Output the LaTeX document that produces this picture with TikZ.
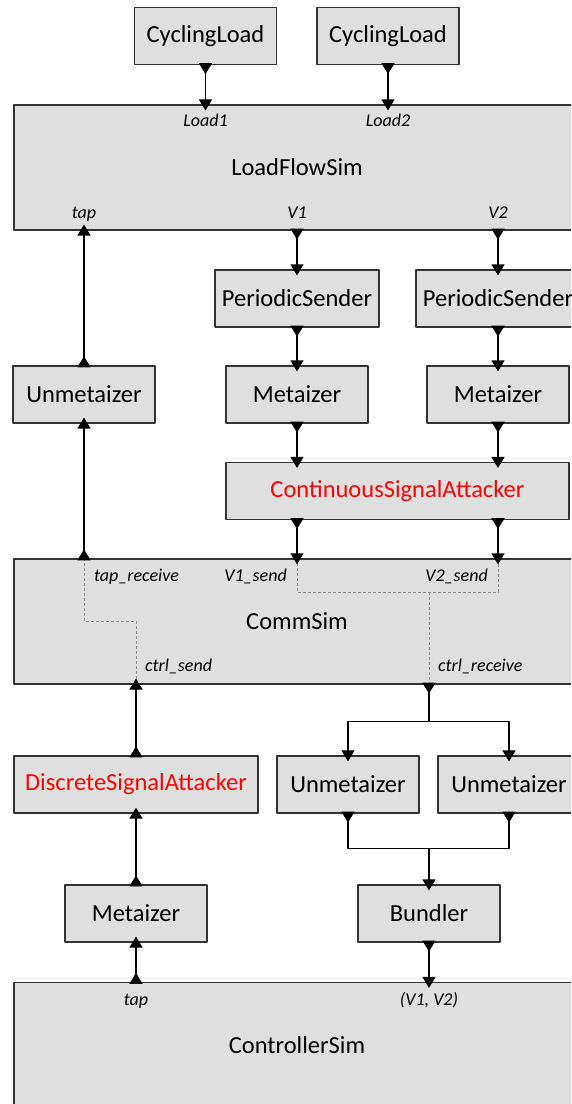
\documentclass[tikz,border=0pt]{standalone}
\usepackage{fontspec}
\setmainfont{Carlito}
\usepackage{tikz}
\usetikzlibrary{positioning, arrows.meta, calc}
\definecolor{boxgray}{HTML}{DFDFDF}
\definecolor{edgegray}{HTML}{333333}
\definecolor{wiregray}{HTML}{8C8C8C}
\definecolor{attackred}{HTML}{FF0000}

\begin{document}
\begin{tikzpicture}[
    x=1pt, y=-1pt,
    line join=round,
    actor/.style={draw=edgegray, fill=boxgray, line width=1.2pt, minimum width=142pt,
        minimum height=57pt, inner sep=0pt, font=\fontsize{24.5}{28}\selectfont},
    bigactor/.style={actor, minimum width=566pt, minimum height=125pt},
    attacker/.style={text=attackred},
    portlabel/.style={font=\fontsize{18}{20}\selectfont\itshape, inner sep=0pt, anchor=base},
    link/.style={line width=1.3pt,
        {Triangle[reversed,width=13pt,length=11pt]}-{Triangle[width=13pt,length=11pt]},
        shorten <=-2pt, shorten >=-6pt},
    linkout/.style={line width=1.3pt, {Triangle[reversed,width=13pt,length=11pt]}-, shorten <=-2pt},
    linkin/.style={line width=1.3pt, -{Triangle[width=13pt,length=11pt]}, shorten >=-6pt},
    relay/.style={draw=wiregray, line width=0.9pt, dash pattern=on 3pt off 2pt}
]
    \useasboundingbox (0,0) rectangle (571,1104);
    \clip (0,0) rectangle (571,1104);

    % Actors, top to bottom:
    \node[actor] (load1) at (205.5,36) {CyclingLoad};
    \node[actor] (load2) at (388,36) {CyclingLoad};
    \node[bigactor] (flow) at (297,167.5) {LoadFlowSim};
    \node[actor, minimum width=164pt] (send1) at (297,298.5) {PeriodicSender};
    \node[actor, minimum width=164pt] (send2) at (498,298.5) {PeriodicSender};
    \node[actor] (unmeta1) at (84,394.5) {Unmetaizer};
    \node[actor] (meta1) at (297,394.5) {Metaizer};
    \node[actor] (meta2) at (498,394.5) {Metaizer};
    \node[actor, attacker, minimum width=343pt] (contatk) at (397.5,491) {ContinuousSignalAttacker};
    \node[bigactor] (comm) at (297,621.5) {CommSim};
    \node[actor, attacker, minimum width=244pt] (discatk) at (136,784.5) {DiscreteSignalAttacker};
    \node[actor] (unmeta2) at (348,784.5) {Unmetaizer};
    \node[actor] (unmeta3) at (509,784.5) {Unmetaizer};
    \node[actor] (meta3) at (136,913.5) {Metaizer};
    \node[actor] (bundle) at (429,913.5) {Bundler};
    \node[bigactor] (ctrl) at (297,1045) {ControllerSim};

    % Ports on the simulators:
    \coordinate (p-load1) at (load1.south |- flow.north);
    \coordinate (p-load2) at (load2.south |- flow.north);
    \coordinate (p-tap) at (unmeta1.north |- flow.south);
    \coordinate (p-v1) at (send1.north |- flow.south);
    \coordinate (p-v2) at (send2.north |- flow.south);
    \coordinate (p-taprecv) at (unmeta1.south |- comm.north);
    \coordinate (p-v1send) at (meta1.south |- comm.north);
    \coordinate (p-v2send) at (meta2.south |- comm.north);
    \coordinate (p-ctrlsend) at (discatk.north |- comm.south);
    \coordinate (p-ctrlrecv) at (bundle.north |- comm.south);
    \coordinate (p-ctrltap) at (meta3.south |- ctrl.north);
    \coordinate (p-ctrlv) at (bundle.south |- ctrl.north);

    % Port labels
    \node[portlabel] (l-load1) at ($(p-load1)+(0,22)$) {Load1};
    \node[portlabel] (l-load2) at ($(p-load2)+(0,22)$) {Load2};
    \node[portlabel] (l-tap) at ($(p-tap)+(0,-12)$) {tap};
    \node[portlabel] (l-v1) at ($(p-v1)+(0,-12)$) {V1};
    \node[portlabel] (l-v2) at ($(p-v2)+(0,-12)$) {V2};
    \node[portlabel, anchor=base west] (l-taprecv) at ($(p-taprecv)+(10,23)$) {tap\_receive};
    \node[portlabel, anchor=base east] (l-v1send) at ($(p-v1send)+(-10,23)$) {V1\_send};
    \node[portlabel, anchor=base east] (l-v2send) at ($(p-v2send)+(-10,23)$) {V2\_send};
    \node[portlabel, anchor=base west] (l-ctrlsend) at ($(p-ctrlsend)+(9,-13.5)$) {ctrl\_send};
    \node[portlabel, anchor=base west] (l-ctrlrecv) at ($(p-ctrlrecv)+(9,-13.5)$) {ctrl\_receive};
    \node[portlabel] (l-ctrltap) at ($(p-ctrltap)+(0,23.5)$) {tap};
    \node[portlabel] (l-ctrlv) at ($(p-ctrlv)+(0,23.5)$) {(V1, V2)};

    % Relays inside CommSim
    \coordinate (v-mid) at ($(p-v1send)+(0,34)$);
    \draw[relay] (p-taprecv) |- (p-ctrlsend |- comm.center) -- (p-ctrlsend);
    \draw[relay] (p-v1send) |- (p-v2send |- v-mid) -- (p-v2send);
    \draw[relay] (p-ctrlrecv |- v-mid) -- (p-ctrlrecv);

    % Connections
    \draw[link] (load1.south) -- (p-load1);
    \draw[link] (load2.south) -- (p-load2);
    \draw[link] (p-v1) -- (send1.north);
    \draw[link] (p-v2) -- (send2.north);
    \draw[link] (send1.south) -- (meta1.north);
    \draw[link] (send2.south) -- (meta2.north);
    \draw[link] (meta1.south) -- (meta1.south |- contatk.north);
    \draw[link] (meta2.south) -- (meta2.south |- contatk.north);
    \draw[link] (meta1.south |- contatk.south) -- (p-v1send);
    \draw[link] (meta2.south |- contatk.south) -- (p-v2send);
    \draw[link] (p-taprecv) -- (unmeta1.south);
    \draw[link] (unmeta1.north) -- (p-tap);

    \draw[link] (discatk.north) -- (p-ctrlsend);
    \draw[link] (meta3.north) -- (discatk.south);
    \draw[link] (p-ctrltap) -- (meta3.south);

    \coordinate (fork) at ($(p-ctrlrecv)+(0,37)$);
    \coordinate (merge) at ($(bundle.north)+(0,-36)$);
    \draw[linkout] (p-ctrlrecv) -- (fork);
    \draw[linkin] (fork) -| (unmeta2.north);
    \draw[linkin] (fork) -| (unmeta3.north);
    \draw[linkout] (unmeta2.south) |- (merge);
    \draw[linkout] (unmeta3.south) |- (merge);
    \draw[linkin] (merge) -- (bundle.north);
    \draw[link] (bundle.south) -- (p-ctrlv);
\end{tikzpicture}
\end{document}
